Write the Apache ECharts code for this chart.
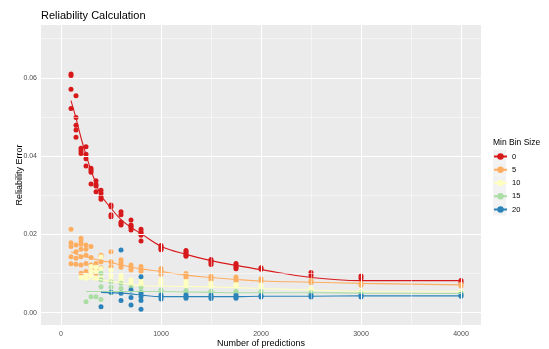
<!DOCTYPE html>
<html>
<head>
<meta charset="utf-8">
<script src="https://cdn.jsdelivr.net/npm/echarts@6/dist/echarts.min.js"></script>
<style>html,body{margin:0;padding:0;background:#fff;}#c{width:549px;height:349px;}</style>
</head>
<body>
<div id="c"></div>
<script>
// Number of predictions (x positions)
const nPred = [100,150,200,250,300,350,400,500,600,700,800,1000,1250,1500,1750,2000,2500,3000,4000];
const xTicks = [0,1000,2000,3000,4000];
const yTicks = [0,0.02,0.04,0.06];
const seriesNames = ['0','5','10','15','20'];

// Reliability error points, per x in nPred
const err0 = [
  [0.0610,0.0606,0.0571,0.0522],[0.0554,0.0499,0.0479,0.0467,0.0448],[0.0420,0.0414,0.0407],
  [0.0424,0.0405,0.0393,0.0375],[0.0369,0.0364,0.0359,0.0329],[0.0337,0.0328,0.0324,0.0309],
  [0.0313,0.0305,0.0296,0.0290],[0.0275,0.0271,0.0250,0.0245],[0.0258,0.0250,0.0232,0.0228,0.0224],
  [0.0237,0.0224,0.0221,0.0217,0.0211],[0.0213,0.0207,0.0203,0.0198,0.0183],[0.0172,0.0168,0.0164,0.0161],
  [0.0159,0.0155,0.0151,0.0147,0.0144],[0.0136,0.0132,0.0128,0.0123],[0.0126,0.0121,0.0116,0.0112],
  [0.0115,0.0111],[0.0103,0.0096],[0.0094,0.0088],[0.0082,0.0077]
];
const err5 = [
  [0.0213,0.0179,0.0169,0.0143,0.0125],[0.0173,0.0156,0.0139,0.0124],[0.0190,0.0181,0.0175,0.0162,0.0143,0.0122,0.0101],
  [0.0173,0.0162,0.0147,0.0126,0.0105],[0.0169,0.0141,0.0122,0.0118,0.0102],[0.0126,0.0111,0.0101],
  [0.0147,0.0143,0.0130,0.0115],[0.0156,0.0130,0.0118],[0.0135,0.0129,0.0122,0.0116],
  [0.0122,0.0115,0.0109],[0.0118,0.0111,0.0105],[0.0113,0.0108,0.0103,0.0098],
  [0.0100,0.0095,0.0090],[0.0093,0.0089,0.0084],[0.0091,0.0086,0.0081],
  [0.0087,0.0081],[0.0082,0.0077],[0.0075,0.0070],[0.0073,0.0068]
];
const err10 = [
  [],[],[0.0090],[0.0096,0.0088],[0.0118,0.0105,0.0095],[0.0116,0.0105,0.0088],
  [0.0143,0.0113,0.0101,0.0090],[0.0109,0.0096,0.0084],[0.0096,0.0088,0.0080],
  [0.0084,0.0078],[0.0084,0.0076,0.0070],[0.0085,0.0080,0.0075],
  [0.0080,0.0075,0.0069],[0.0075,0.0071,0.0068],[0.0072,0.0068],
  [0.0071,0.0067],[0.0062,0.0058],[0.0056],[0.0054]
];
const err15 = [
  [],[],[],[0.0028],[0.0041],[0.0041],
  [0.0101,0.0084,0.0066,0.0034],[0.0079,0.0065,0.0051],[0.0075,0.0062],
  [0.0065],[0.0065,0.0054],[0.0058,0.0054],
  [0.0057,0.0053],[0.0055,0.0052],[0.0055,0.0051],
  [0.0054,0.0051],[0.0053,0.0050],[0.0052,0.0050],[0.0051,0.0049]
];
const err20 = [
  [],[],[],[],[],[],
  [0.0015],[0.0052],[0.0160,0.0050,0.0031],
  [0.0058,0.0039,0.0020],[0.0092,0.0050,0.0041,0.0031,0.0009],[0.0045,0.0040,0.0035],
  [0.0046,0.0041,0.0037],[0.0045,0.0040,0.0036],[0.0045,0.0040,0.0037],
  [0.0044,0.0040],[0.0045,0.0040],[0.0045,0.0040],[0.0046,0.0042]
];

// Smoothed fit values, per x in nPred
const fit0 = [0.0542,0.0497,0.0447,0.0403,0.0364,0.0330,0.0300,0.0267,0.0238,0.0218,0.0202,0.0170,0.0149,0.0133,0.0121,0.0110,0.0090,0.0082,0.0082];
const fit5 = [0.0156,0.0150,0.0146,0.0143,0.0140,0.0136,0.0133,0.0128,0.0122,0.0117,0.0112,0.0105,0.0096,0.0090,0.0085,0.0081,0.0078,0.0075,0.0071];
const fit10 = [null,null,0.0088,0.0087,0.0086,0.0085,0.0084,0.0080,0.0076,0.0072,0.0069,0.0068,0.0067,0.0066,0.0064,0.0062,0.0058,0.0055,0.0055];
const fit15 = [null,null,null,0.0054,0.0054,0.0054,0.0054,0.0054,0.0054,0.0054,0.0054,0.0054,0.0053,0.0052,0.0051,0.0051,0.0051,0.0050,0.0049];
const fit20 = [null,null,null,null,null,null,0.0052,0.0051,0.0050,0.0048,0.0045,0.0041,0.0041,0.0041,0.0041,0.0042,0.0042,0.0043,0.0043];

const colors = ['#D7191C','#FDAE61','#FFFFBF','#ABDDA4','#2B83BA'];
const allErr = [err0,err5,err10,err15,err20];
const allFit = [fit0,fit5,fit10,fit15,fit20];

const FONT = 'Liberation Sans, Arial, sans-serif';

const xMajor = [0,1000,2000,3000,4000];
const xMinor = [500,1500,2500,3500];
const yMajor = [0,0.02,0.04,0.06];
const yMinor = [0.01,0.03,0.05,0.07];

const gridLines = [];
xMinor.forEach(v => gridLines.push({xAxis: v, lineStyle: {width: 0.5}}));
yMinor.forEach(v => gridLines.push({yAxis: v, lineStyle: {width: 0.5}}));
xMajor.forEach(v => gridLines.push({xAxis: v, lineStyle: {width: 1}}));
yMajor.forEach(v => gridLines.push({yAxis: v, lineStyle: {width: 1}}));

const series = [];
series.push({
  type: 'line', name: '__grid', data: [], z: 1, silent: true,
  markLine: {
    silent: true, symbol: ['none','none'], label: {show: false}, animation: false,
    lineStyle: {color: '#ffffff', type: 'solid', opacity: 1},
    emphasis: {disabled: true},
    data: gridLines
  }
});
seriesNames.forEach((nm, k) => {
  const fit = allFit[k];
  const d = [];
  nPred.forEach((x, i) => { if (fit[i] !== null) d.push([x, fit[i]]); });
  series.push({
    type: 'line', name: nm, data: d, smooth: 0.4, showSymbol: false,
    symbol: 'circle', symbolSize: 5, z: 4,
    itemStyle: {color: colors[k]},
    lineStyle: {color: colors[k], width: 1.1},
    animation: false
  });
});
seriesNames.forEach((nm, k) => {
  const pts = [];
  nPred.forEach((x, i) => allErr[k][i].forEach(v => pts.push([x, v])));
  series.push({
    type: 'scatter', name: nm, data: pts, symbol: 'circle', symbolSize: 5, z: 3,
    itemStyle: {color: colors[k], opacity: 1},
    animation: false
  });
});

// legend key backgrounds (ggplot style)
const keyTop = 149.5, keyStep = 13.25;
const keyRects = seriesNames.map((nm, k) => ({
  type: 'rect', left: 493, top: keyTop + k * keyStep, z: 0, silent: true,
  shape: {width: 13, height: 13}, style: {fill: '#F2F2F2'}
}));

const chart = echarts.init(document.getElementById('c'), null, {renderer: 'canvas'});
chart.setOption({
  backgroundColor: '#ffffff',
  animation: false,
  textStyle: {fontFamily: FONT},
  title: [
    {text: 'Reliability Calculation', left: 36, top: 5, textStyle: {fontFamily: FONT, fontSize: 11, fontWeight: 'normal', color: '#000'}},
    {text: 'Min Bin Size', left: 488, top: 133, textStyle: {fontFamily: FONT, fontSize: 8.5, fontWeight: 'normal', color: '#000'}}
  ],
  graphic: keyRects,
  grid: {left: 41, right: 68, top: 25, bottom: 24, show: true, backgroundColor: '#EBEBEB', borderWidth: 0,
    containLabel: false, outerBoundsMode: 'none'},
  legend: {
    data: seriesNames, orient: 'vertical', left: 488, top: 147.5, itemWidth: 13, itemHeight: 8, itemGap: 5.25,
    textStyle: {fontFamily: FONT, fontSize: 7.5, color: '#000'}, selectedMode: false, z: 5
  },
  xAxis: {
    type: 'value', min: -200, max: 4200,
    name: 'Number of predictions', nameLocation: 'middle', nameGap: 14.5, nameMoveOverlap: false,
    nameTextStyle: {fontFamily: FONT, fontSize: 9, color: '#000'},
    axisLine: {show: false},
    axisTick: {show: true, length: 2.5, lineStyle: {color: '#333'}, customValues: xTicks},
    axisLabel: {fontSize: 7, color: '#4D4D4D', margin: 5.5, customValues: xTicks, fontFamily: FONT,
      formatter: v => String(Math.round(v))},
    splitLine: {show: false}
  },
  yAxis: {
    type: 'value', min: -0.00314, max: 0.0735,
    name: 'Reliability Error', nameLocation: 'middle', nameGap: 16.5, nameRotate: 90, nameMoveOverlap: false,
    nameTextStyle: {fontFamily: FONT, fontSize: 9, color: '#000'},
    axisLine: {show: false},
    axisTick: {show: true, length: 2.5, lineStyle: {color: '#333'}, customValues: yTicks},
    axisLabel: {fontSize: 7, color: '#4D4D4D', margin: 4, customValues: yTicks, fontFamily: FONT,
      formatter: v => v.toFixed(2)},
    splitLine: {show: false}
  },
  series: series
});
</script>
</body>
</html>
